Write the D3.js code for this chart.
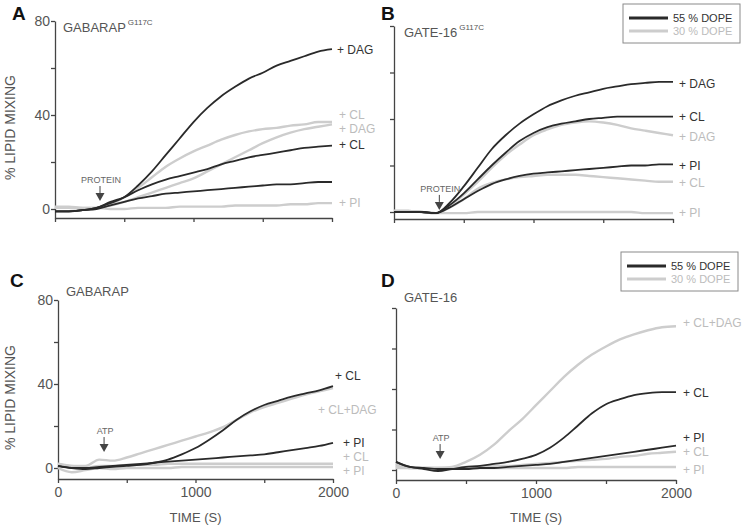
<!DOCTYPE html>
<html><head><meta charset="utf-8">
<script src="https://cdn.jsdelivr.net/npm/d3@7"></script>
<style>
body{margin:0;background:#fff}
svg{display:block}
text{font-family:"Liberation Sans",Arial,Helvetica,sans-serif}
</style>
</head><body>
<svg id="chart" width="745" height="527"></svg>
<script>
// ---------- DATA ----------
const times = [0,100,200,300,400,500,600,700,800,900,1000,1100,1200,1300,1400,1500,1600,1700,1800,1900,2000];
const xTicks = [0,500,1000,1500,2000];
const xTickLabels = [0,1000,2000];
const yTicks = [0,20,40,60,80];
const yTickLabels = [0,40,80];
const legendLabels = ["55 % DOPE","30 % DOPE"];

// Panel A : GABARAP G117C
const aDarkDAG = [-1,-1,-0.5,0.5,2.5,5,10,16,23,30,37,43,48,52,55.5,58,61,63,65,67,68];
const aDarkCL  = [-1,-1,-0.5,0.5,3,5,8,10.5,12.5,14,15.5,17,19,20.5,22,23,24,25,26,26.5,27];
const aDarkPI  = [-1,-1,-0.5,0,1.5,3,4.5,5.5,6.5,7,7.5,8,8.5,9,9.5,10,10.5,10.5,11,11.5,11.5];
const aGrayCL  = [0.5,0.5,0,0.5,2,5,9,13.5,18,21.5,24.5,27,29.5,31.5,33,34,34.5,35.5,36,37,37];
const aGrayDAG = [0.5,0.5,0.5,0.5,1.5,3,5,7,9,11,13,16,19,22,25,28,30.5,32.5,34,35,36];
const aGrayPI  = [1,1,0.5,0.5,0,0,0.5,0.5,0.5,1,1,1,1,1.5,1.5,1.5,1.5,2,2,2.5,2.5];

// Panel B : GATE-16 G117C
const bDarkDAG = [0,0,0,-0.5,4,11,19,27,33,38,42,45.5,48,50,51.5,53,54,55,55.5,56,56];
const bDarkCL  = [0,0,0,-0.5,3,8,14,20,25.5,30.5,34,36.5,38,39,40,40.5,41,41,41,41,41];
const bDarkPI  = [0,0,0,-0.5,2,5.5,9,12,14,15.5,16.5,17,17.5,18,18.5,19,19.5,20,20,20.5,20.5];
const bGrayDAG = [0.5,0.5,0,-0.5,2.5,7.5,13,19,24.5,29,33,35.5,37.5,38.5,39,38.5,37.5,36,35,34,33];
const bGrayCL  = [0.5,0.5,0,-0.5,2,5.5,10,12.5,14,15,15.5,16,16,16,15.5,15,14.5,14,13.5,13,13];
const bGrayPI  = [0.5,0.5,0,-0.5,-0.5,-0.5,0,0,0,0,0,0,0,0,0,0,0,0,-0.5,-0.5,-0.5];

// Panel C : GABARAP
const cDarkCL     = [1,0,-0.5,0,0.5,1,1.5,2.5,4,6.5,9.5,13.5,18,23,27,30,32,34,35.5,37,39];
const cGrayCLDAG  = [2,1,1,4,3.5,5,7,9,11,13,15,17,19.5,23,26.5,29,31,33,35,36.5,38];
const cDarkPI     = [1,0,0,0.5,1,1.5,2,2.5,3,3.5,4,4.5,5,5.5,6,6.5,7.5,8.5,9.5,10.5,12];
const cGrayCL     = [2,1,0,1,1,1.5,1.5,1.5,2,2,2,2,2,2,2,2,2,2,2,2,2];
const cGrayPI     = [0,-2,-1,0,-0.5,0,0,0,0,0.5,0.5,0.5,0.5,0.5,0.5,0.5,0.5,0.5,0.5,0.5,0.5];

// Panel D : GATE-16
const dGrayCLDAG = [3,1,1,1,1.5,4,7.5,12.5,19,25,32,39,46,52,57,61,64.5,67,69,70.5,71];
const dDarkCL    = [4,1.5,0.5,-0.5,0.5,1.5,2,3,4,5.5,7.5,11,16,22,28,32.5,35,37,38,38.5,38.5];
const dDarkPI    = [4,1.5,1,0.5,0.5,0.5,1,1,1.5,2,2.5,3,4,5,6,7,8,9,10,11,12];
const dGrayCL    = [2,1,1,1,1,1.5,1.5,2,2,2.5,3,3.5,4,4.5,5,5.5,6.5,7,8,8.5,9];
const dGrayPI    = [1,1,1,1,1,1,1,1,1,1,1,1,1,1.5,1.5,1.5,1.5,1.5,1.5,1.5,1.5];

// ---------- STYLE ----------
const DARK = "#2a2a2a", GRAY = "#cdcdcd";
const DARKTXT = "#333333", GRAYTXT = "#bcbcbc";
const AXIS = "#444", TICKTXT = "#555";
const FONT = '"Liberation Sans",Arial,Helvetica,sans-serif';

const panels = [
  {letter:"A", lx:12, ly:20, x0:55, x1:332, yZero:209, y80:21, bottom:218,
   title:"GABARAP", sup:"G117C", tx:63, ty:32, yLabels:true, xLabels:false,
   series:[
     {v:aGrayPI, c:"g"},{v:aGrayDAG, c:"g"},{v:aGrayCL, c:"g"},
     {v:aDarkPI, c:"d"},{v:aDarkCL, c:"d"},{v:aDarkDAG, c:"d"}],
   labels:[
     {t:"+ DAG", c:"d", y:67.7, dx:5},
     {t:"+ CL", c:"g", y:40.2, dx:7},
     {t:"+ DAG", c:"g", y:34, dx:7},
     {t:"+ CL", c:"d", y:27.2, dx:7},
     {t:"+ PI", c:"g", y:2.6, dx:7}],
   arrow:{t:"PROTEIN", time:325, tip:3.4}},
  {letter:"B", lx:381, ly:20, x0:394, x1:673, yZero:212, y80:26, bottom:219,
   title:"GATE-16", sup:"G117C", tx:404, ty:37, yLabels:false, xLabels:false, legend:{x:623,y:4},
   series:[
     {v:bGrayPI, c:"g"},{v:bGrayCL, c:"g"},{v:bGrayDAG, c:"g"},
     {v:bDarkPI, c:"d"},{v:bDarkCL, c:"d"},{v:bDarkDAG, c:"d"}],
   labels:[
     {t:"+ DAG", c:"d", y:55, dx:6},
     {t:"+ CL", c:"d", y:40.9, dx:6},
     {t:"+ DAG", c:"g", y:32.3, dx:6},
     {t:"+ PI", c:"d", y:19.8, dx:6},
     {t:"+ CL", c:"g", y:12.5, dx:6},
     {t:"+ PI", c:"g", y:-0.4, dx:6}],
   arrow:{t:"PROTEIN", time:325, tip:0.9}},
  {letter:"C", lx:10, ly:287, x0:58, x1:333, yZero:468, y80:300, bottom:479,
   title:"GABARAP", sup:null, tx:66, ty:296, yLabels:true, xLabels:true,
   series:[
     {v:cGrayPI, c:"g"},{v:cGrayCL, c:"g"},{v:cGrayCLDAG, c:"g"},
     {v:cDarkPI, c:"d"},{v:cDarkCL, c:"d"}],
   labels:[
     {t:"+ CL", c:"d", y:43.8, dx:2},
     {t:"+ CL+DAG", c:"g", y:27.6, dx:-15},
     {t:"+ PI", c:"d", y:11.9, dx:10},
     {t:"+ CL", c:"g", y:5.2, dx:10},
     {t:"+ PI", c:"g", y:-1.4, dx:10}],
   arrow:{t:"ATP", time:335, tip:7.6}},
  {letter:"D", lx:381, ly:287, x0:396, x1:676, yZero:470, y80:308, bottom:480,
   title:"GATE-16", sup:null, tx:404, ty:302, yLabels:false, xLabels:true, legend:{x:621,y:252},
   series:[
     {v:dGrayPI, c:"g"},{v:dGrayCL, c:"g"},{v:dGrayCLDAG, c:"g"},
     {v:dDarkPI, c:"d"},{v:dDarkCL, c:"d"}],
   labels:[
     {t:"+ CL+DAG", c:"g", y:72.6, dx:7},
     {t:"+ CL", c:"d", y:38, dx:7},
     {t:"+ PI", c:"d", y:15.8, dx:7},
     {t:"+ CL", c:"g", y:8.9, dx:7},
     {t:"+ PI", c:"g", y:0, dx:7}],
   arrow:{t:"ATP", time:315, tip:5.4}}
];

const svg = d3.select("#chart");

panels.forEach(p => {
  const g = svg.append("g");
  const x = d3.scaleLinear().domain([0,2000]).range([p.x0, p.x1]);
  const yBase = d3.scaleLinear().domain([0,80]).range([p.yZero, p.y80]);
  const yMin = yBase.invert(p.bottom);
  const y = d3.scaleLinear().domain([yMin,80]).range([p.bottom, p.y80]);

  // panel letter
  g.append("text").attr("x",p.lx).attr("y",p.ly).text(p.letter)
    .attr("font-size",19).attr("font-weight","bold").attr("fill","#111");

  // y axis
  const ya = g.append("g").attr("transform",`translate(${p.x0},0)`)
    .call(d3.axisLeft(y).tickValues(yTicks).tickSize(4).tickSizeOuter(0)
      .tickFormat(d => (p.yLabels && yTickLabels.includes(d)) ? d : ""));
  // x axis
  const xa = g.append("g").attr("transform",`translate(0,${p.bottom})`)
    .call(d3.axisBottom(x).tickValues(xTicks).tickSize(4).tickSizeOuter(0)
      .tickFormat(d => (p.xLabels && xTickLabels.includes(d)) ? d : ""));
  [ya,xa].forEach(a => {
    a.selectAll("path,line").attr("stroke",AXIS).attr("stroke-width",1.3);
    a.selectAll("text").attr("fill",TICKTXT).attr("font-size",14).attr("font-family",FONT);
  });
  ya.selectAll("text").attr("x",-5);
  xa.selectAll("text").attr("y",8);

  // y axis title
  if (p.yLabels) {
    const cy = (p.y80 + p.bottom)/2 + 8;
    g.append("text").attr("transform",`translate(15,${cy}) rotate(-90)`)
      .attr("text-anchor","middle").attr("font-size",14).attr("fill",TICKTXT)
      .text("% LIPID MIXING");
  }
  if (p.xLabels) {
    g.append("text").attr("x",(p.x0+p.x1)/2).attr("y",522)
      .attr("text-anchor","middle").attr("font-size",13).attr("fill",TICKTXT)
      .text("TIME (S)");
  }

  // title
  const tt = g.append("text").attr("x",p.tx).attr("y",p.ty)
    .attr("font-size",13).attr("fill",TICKTXT).text(p.title);
  if (p.sup) {
    tt.append("tspan").attr("dx",2).attr("dy",-7).attr("font-size",8).text(p.sup);
  }

  // lines
  const line = d3.line().x((d,i)=>x(times[i])).y(d=>y(d)).curve(d3.curveMonotoneX);
  p.series.forEach(s => {
    g.append("path").datum(s.v).attr("d",line).attr("fill","none")
      .attr("stroke", s.c==="d" ? DARK : GRAY)
      .attr("stroke-width", s.c==="d" ? 1.8 : 2.4)
      .attr("stroke-linejoin","round");
  });

  // series labels
  p.labels.forEach(l => {
    g.append("text").attr("x", p.x1 + l.dx).attr("y", y(l.y)).attr("dy","0.35em")
      .attr("font-size",12).attr("fill", l.c==="d" ? DARKTXT : GRAYTXT).text(l.t);
  });

  // annotation arrow
  const ax = x(p.arrow.time), tip = y(p.arrow.tip);
  g.append("path").attr("d",`M${ax-4.5},${tip-8}L${ax+4.5},${tip-8}L${ax},${tip}Z`).attr("fill","#444");
  g.append("line").attr("x1",ax).attr("x2",ax).attr("y1",tip-15).attr("y2",tip-8)
    .attr("stroke","#444").attr("stroke-width",1);
  g.append("text").attr("x",ax+1).attr("y",tip-18).attr("text-anchor","middle")
    .attr("font-size",9).attr("fill","#666").text(p.arrow.t);

  // legend
  if (p.legend) {
    const lg = g.append("g").attr("transform",`translate(${p.legend.x},${p.legend.y})`);
    lg.append("rect").attr("width",117).attr("height",39).attr("fill","#fff")
      .attr("stroke","#8a8a8a").attr("stroke-width",1);
    legendLabels.forEach((t,i) => {
      const ly = 14 + i*13;
      lg.append("line").attr("x1",6).attr("x2",45).attr("y1",ly).attr("y2",ly)
        .attr("stroke", i===0 ? DARK : GRAY).attr("stroke-width",3);
      lg.append("text").attr("x",50).attr("y",ly).attr("dy","0.35em")
        .attr("font-size",11).attr("fill", i===0 ? DARKTXT : GRAYTXT).text(t);
    });
  }
});
</script>
</body></html>
